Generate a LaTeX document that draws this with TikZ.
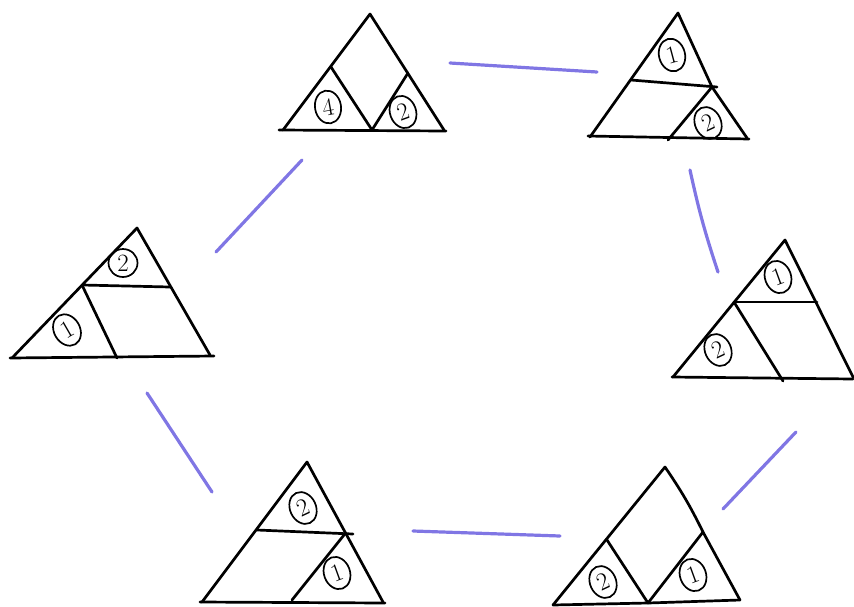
\documentclass[tikz,border=0pt]{standalone}
\usetikzlibrary{shapes.geometric}
\definecolor{trazo}{RGB}{128,118,228}
\tikzset{
  lado/.style={line width=2.7pt, line join=round},
  num/.style={draw, ellipse, line width=1.7pt, minimum width=26pt, minimum height=33pt, inner sep=0pt, font=\Huge},
  enlace/.style={trazo, line width=3.2pt, line cap=round},
}
\begin{document}
\begin{tikzpicture}[x=1pt, y=-1pt, line cap=round]
      \useasboundingbox (0,0) rectangle (854,606);
      % arriba, centro
      \coordinate (a1) at (370,14); \coordinate (a2) at (283,130); \coordinate (a3) at (444,130);
      \coordinate (a4) at (331,67); \coordinate (a5) at (408,73); \coordinate (a6) at (372,130);
      \draw[lado] (a2) -- (a1) -- (a3);
      \draw[lado] (279,130) -- (446,131);
      \draw[lado] (a4) -- (a6) -- (a5);
      \node[num, rotate=10] (a7) at (328,107) {4};
      \node[num, rotate=20] (a8) at (403,112) {2};
      % arriba, derecha
      \coordinate (b1) at (678,13); \coordinate (b2) at (590,137); \coordinate (b3) at (747,138);
      \coordinate (b4) at (631,80); \coordinate (b5) at (712,87); \coordinate (b6) at (668,140);
      \draw[lado] (b2) -- (b1) -- (b5) -- (b3);
      \draw[lado] (588,136) -- (749,139);
      \draw[lado] (b4) -- (717,87);
      \draw[lado] (b5) -- (b6);
      \node[num, rotate=15] (b7) at (672,55) {1};
      \node[num, rotate=25] (b8) at (708,123) {2};
      % izquierda
      \coordinate (c1) at (137,228); \coordinate (c2) at (12,358); \coordinate (c3) at (210,355);
      \coordinate (c4) at (82,285); \coordinate (c5) at (170,287); \coordinate (c6) at (117,358);
      \draw[lado] (c2) -- (c1) -- (c3);
      \draw[lado] (10,358) -- (214,356);
      \draw[lado] (c4) -- (c5);
      \draw[lado] (c4) -- (c6);
      \node[num, minimum width=29pt, minimum height=28pt] (c7) at (123,263) {2};
      \node[num, rotate=30] (c8) at (67,330) {1};
      % derecha
      \coordinate (d1) at (785,240); \coordinate (d2) at (673,377); \coordinate (d3) at (853,377);
      \coordinate (d4) at (734,302); \coordinate (d5) at (817,302); \coordinate (d6) at (783,381);
      \draw[lado] (d2) -- (d1) -- (d3);
      \draw[lado] (672,377) -- (853,379);
      \draw[lado] (d4) -- (d5);
      \draw[lado] (d4) -- (d6);
      \node[num, rotate=20] (d7) at (778,277) {1};
      \node[num, rotate=25] (d8) at (718,350) {2};
      % abajo, izquierda
      \coordinate (e1) at (307,462); \coordinate (e2) at (202,602); \coordinate (e3) at (383,602);
      \coordinate (e4) at (257,530); \coordinate (e5) at (344,535); \coordinate (e6) at (292,600);
      \draw[lado] (e2) -- (e1) -- (e3);
      \draw[lado] (200,602) -- (385,603);
      \draw[lado] (e4) -- (353,534);
      \draw[lado] (e5) -- (e6);
      \node[num, rotate=25] (e7) at (303,508) {2};
      \node[num, rotate=20] (e8) at (337,573) {1};
      % abajo, derecha
      \coordinate (f1) at (665,467); \coordinate (f2) at (553,605); \coordinate (f3) at (740,600);
      \coordinate (f4) at (607,540); \coordinate (f5) at (703,532); \coordinate (f6) at (648,603);
      \draw[lado] (f2) -- (f1) to[bend left=4] (f5) -- (f3);
      \draw[lado] (f2) -- (f6) -- (f3);
      \draw[lado] (f4) -- (f6) -- (f5);
      \node[num, rotate=25] (f7) at (603,582) {2};
      \node[num, rotate=20] (f8) at (693,575) {1};
      % enlaces
      \coordinate (g1) at (450,63); \coordinate (g2) at (597,72);
      \coordinate (h1) at (690,170); \coordinate (h2) at (718,272);
      \coordinate (i1) at (796,432); \coordinate (i2) at (723,509);
      \coordinate (j1) at (560,536); \coordinate (j2) at (413,531);
      \coordinate (k1) at (212,492); \coordinate (k2) at (147,393);
      \coordinate (l1) at (216,252); \coordinate (l2) at (302,160);
      \draw[enlace] (g1) -- (g2);
      \draw[enlace] (h1) to[bend right=3] (h2);
      \draw[enlace] (i1) -- (i2);
      \draw[enlace] (j1) -- (j2);
      \draw[enlace] (k1) -- (k2);
      \draw[enlace] (l1) -- (l2);
\end{tikzpicture}
\end{document}
